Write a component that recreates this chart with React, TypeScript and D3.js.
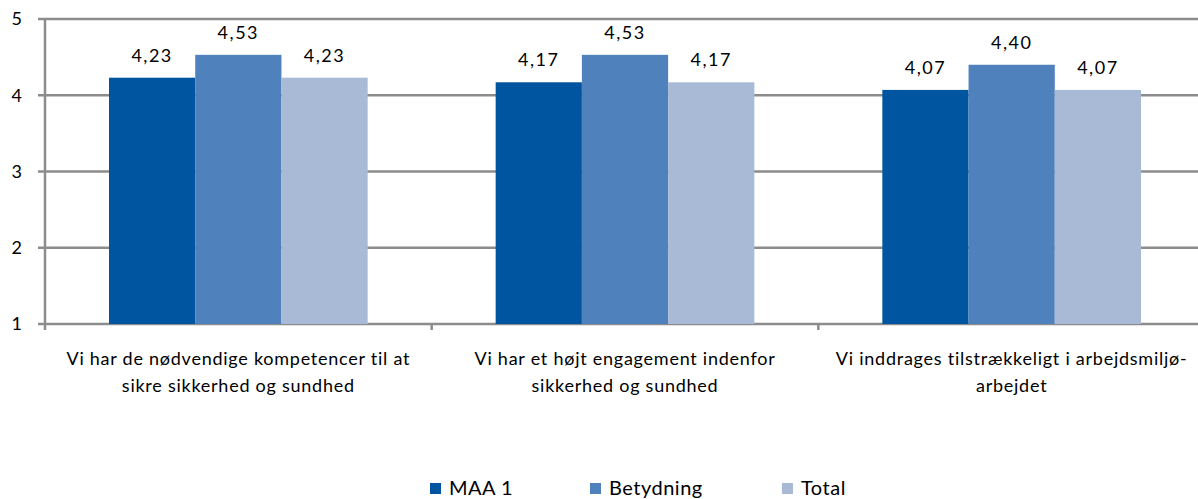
import React from "react";
import * as d3 from "d3";

const categories = [
  ["Vi har de nødvendige kompetencer til at", "sikre sikkerhed og sundhed"],
  ["Vi har et højt engagement indenfor", "sikkerhed og sundhed"],
  ["Vi inddrages tilstrækkeligt i arbejdsmiljø-", "arbejdet"],
];
const seriesNames = ["MAA 1", "Betydning", "Total"];
const maa1 = [4.23, 4.17, 4.07];
const betydning = [4.53, 4.53, 4.4];
const total = [4.23, 4.17, 4.07];
const yTicks = [1, 2, 3, 4, 5];

const colors = ["#0055A0", "#4F81BD", "#A9BAD7"];
const font = "Lato, 'Open Sans', sans-serif";

const width = 1198;
const height = 499;
const margin = { top: 19, right: -7, bottom: 175, left: 45 };

export default function App() {
  const series = [maa1, betydning, total];
  const idx = categories.map((_, i) => i);

  const xScale = d3
    .scaleBand<number>()
    .domain(idx)
    .range([margin.left, width - margin.right])
    .paddingInner(0)
    .paddingOuter(0);
  const inner = d3
    .scaleBand<number>()
    .domain([0, 1, 2])
    .range([64, xScale.bandwidth() - 64]);
  const yScale = d3
    .scaleLinear()
    .domain([1, 5])
    .range([height - margin.bottom, margin.top]);

  const fmt = (v: number) => d3.format(".2f")(v).replace(".", ",");
  const y0 = yScale(1);

  // legend positions
  const legendX = [430, 590, 782];

  return (
    <svg width={width} height={height} style={{ position: "absolute", left: 0, top: 0 }}>
      <rect width={width} height={height} fill="#fff" />
      {/* grid */}
      {yTicks.map((t) => (
        <g key={t}>
          <line
            x1={margin.left - 7}
            x2={width}
            y1={yScale(t)}
            y2={yScale(t)}
            stroke="#8C8C8C"
            strokeWidth={2.5}
          />
          <text
            x={22}
            y={yScale(t)}
            dy="0.35em"
            textAnchor="end"
            fontFamily={font}
            fontSize={18}
            fill="#000"
          >
            {t}
          </text>
        </g>
      ))}
      {/* y axis line */}
      <line x1={margin.left} x2={margin.left} y1={margin.top} y2={y0 + 6} stroke="#8C8C8C" strokeWidth={2.5} />
      {/* category ticks */}
      {idx.slice(1).map((i) => (
        <line
          key={i}
          x1={xScale(i)!}
          x2={xScale(i)!}
          y1={y0}
          y2={y0 + 6}
          stroke="#8C8C8C"
          strokeWidth={2.5}
        />
      ))}
      {/* bars */}
      {idx.map((i) =>
        series.map((s, k) => {
          const x = xScale(i)! + inner(k)!;
          const y = yScale(s[i]);
          return (
            <g key={i + "-" + k}>
              <rect x={x} y={y} width={inner.bandwidth()} height={y0 - y} fill={colors[k]} />
              <text
                x={x + inner.bandwidth() / 2}
                y={y - 16}
                textAnchor="middle"
                fontFamily={font}
                fontSize={18}
                letterSpacing={1.5}
                fill="#000"
              >
                {fmt(s[i])}
              </text>
            </g>
          );
        })
      )}
      {/* category labels */}
      {idx.map((i) => (
        <text
          key={i}
          x={xScale(i)! + xScale.bandwidth() / 2}
          y={365}
          textAnchor="middle"
          fontFamily={font}
          fontSize={18}
          letterSpacing={0.75}
          fill="#000"
        >
          {categories[i].map((line, j) => (
            <tspan key={j} x={xScale(i)! + xScale.bandwidth() / 2} dy={j === 0 ? 0 : 27}>
              {line}
            </tspan>
          ))}
        </text>
      ))}
      {/* legend */}
      {seriesNames.map((n, k) => (
        <g key={n}>
          <rect x={legendX[k]} y={483} width={11} height={11} fill={colors[k]} />
          <text x={legendX[k] + 19} y={495} fontFamily={font} fontSize={20} letterSpacing={0.5} fill="#000">
            {n}
          </text>
        </g>
      ))}
    </svg>
  );
}
